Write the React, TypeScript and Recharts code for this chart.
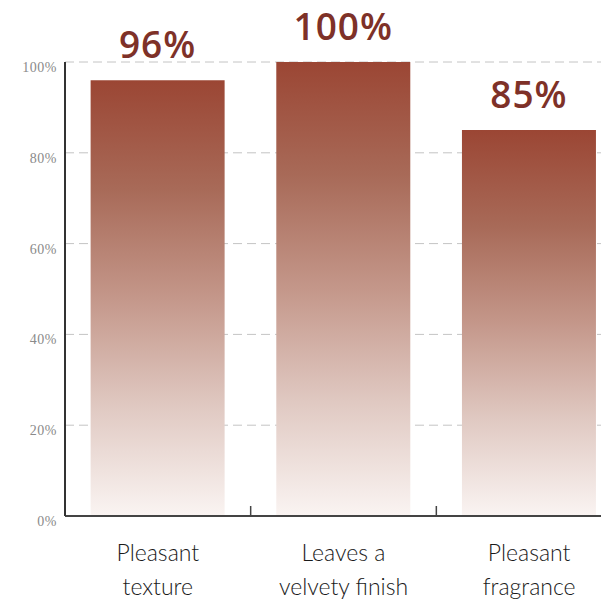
import { BarChart, Bar, XAxis, YAxis, CartesianGrid, LabelList } from "recharts";

const categories = ["Pleasant\ntexture", "Leaves a\nvelvety finish", "Pleasant\nfragrance"];
const approval = [96, 100, 85];
const yTicks = [0, 20, 40, 60, 80, 100];

const data = categories.map((name, i) => ({ name, approval: approval[i] }));

const LABEL_RED = "#7e3128";

function CategoryTick({ x, y, payload }: any) {
  const lines = String(payload.value).split("\n");
  const half = payload.offset ?? 0;
  return (
    <g>
      {payload.index > 0 && (
        <line x1={x - half} x2={x - half} y1={y - 18} y2={y - 8} stroke="#444" strokeWidth={1.5} />
      )}
      <text x={x} y={y} textAnchor="middle" fill="#1a1a1a" fontSize={23} fontWeight={300} fontFamily="Lato, 'DejaVu Sans', sans-serif">
        {lines.map((l, i) => (
          <tspan key={i} x={x} dy={i === 0 ? 37 : 34}>
            {l}
          </tspan>
        ))}
      </text>
    </g>
  );
}

export default function App() {
  return (
    <div style={{ position: "absolute", left: 0, top: 0, width: 601, height: 600, overflow: "hidden", background: "#fff" }}>
      <BarChart
        width={622}
        height={600}
        data={data}
        margin={{ top: 62, right: 0, left: 0, bottom: 0 }}
        barCategoryGap="13.8%"
      >
        <defs>
          <linearGradient id="barFill" x1="0" y1="0" x2="0" y2="1">
            <stop offset="0%" stopColor="#9b4634" />
            <stop offset="25%" stopColor="#a86a58" />
            <stop offset="50%" stopColor="#c4978a" />
            <stop offset="75%" stopColor="#e0c9c2" />
            <stop offset="100%" stopColor="#faf4f2" />
          </linearGradient>
        </defs>
        <CartesianGrid vertical={false} stroke="#c4c4c4" strokeDasharray="9 5" />
        <XAxis
          dataKey="name"
          height={84}
          axisLine={{ stroke: "#444", strokeWidth: 2 }}
          tickLine={false}
          interval={0}
          tick={<CategoryTick />}
        />
        <YAxis
          width={65}
          domain={[0, 100]}
          ticks={yTicks}
          tickFormatter={(v) => `${v}%`}
          axisLine={{ stroke: "#333", strokeWidth: 2 }}
          tickLine={false}
          tick={{ fontSize: 14, fill: "#8a8a8a", fontWeight: 400, fontFamily: "'Liberation Serif', serif", letterSpacing: 0.5, dy: 5 }}
        />
        <Bar dataKey="approval" fill="url(#barFill)" isAnimationActive={false}>
          <LabelList
            dataKey="approval"
            position="top"
            offset={22}
            formatter={(v: any) => `${v}%`}
            fill={LABEL_RED}
            fontSize={37}
            fontWeight={600}
            letterSpacing={1}
            fontFamily="'Open Sans', 'DejaVu Sans', sans-serif"
          />
        </Bar>
      </BarChart>
    </div>
  );
}
